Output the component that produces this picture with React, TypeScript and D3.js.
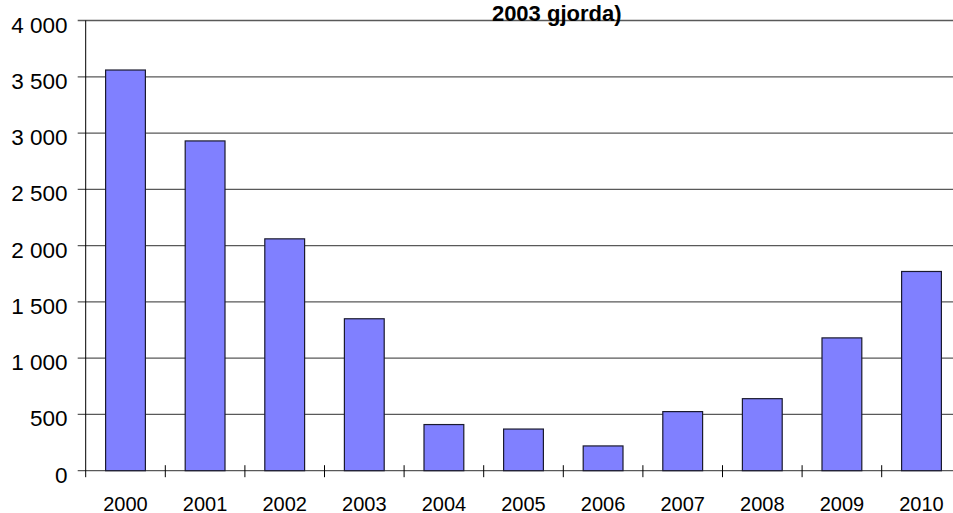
import * as d3 from "d3";

const years = ["2000", "2001", "2002", "2003", "2004", "2005", "2006", "2007", "2008", "2009", "2010"];
const counts = [3560, 2930, 2060, 1350, 410, 370, 220, 525, 640, 1180, 1770];
const yTicks = [0, 500, 1000, 1500, 2000, 2500, 3000, 3500, 4000];
const titleLine = "2003 gjorda)";

const WIDTH = 953;
const HEIGHT = 513;
const LEFT = 85.7;
const STEP = 79.6;
const TOP = 20.5;
const BOTTOM = 470.7;
const FONT = "'Liberation Sans', Arial, sans-serif";

// "3 500" style thousands separator
const fmt = (v: number) => d3.format(",")(v).replace(/,/g, "\u00a0");

export default function App() {
  const xScale = d3
    .scaleBand<string>()
    .domain(years)
    .range([LEFT, LEFT + STEP * years.length])
    .paddingInner(0.5)
    .paddingOuter(0.25);

  const yScale = d3.scaleLinear().domain([0, 4000]).range([BOTTOM, TOP]);

  const step = xScale.step();
  const x0 = xScale.range()[0];

  return (
    <svg
      width={WIDTH}
      height={HEIGHT}
      style={{ position: "absolute", left: 0, top: 0, display: "block", background: "#fff" }}
      fontFamily={FONT}
    >
      {/* Gridlines */}
      {yTicks.map((t) => (
        <line
          key={`g${t}`}
          x1={LEFT - 8}
          x2={WIDTH}
          y1={yScale(t)}
          y2={yScale(t)}
          stroke="#595959"
          strokeWidth={1.3}
        />
      ))}

      {/* Bars */}
      {years.map((yr, i) => (
        <rect
          key={yr}
          x={xScale(yr)}
          y={yScale(counts[i])}
          width={xScale.bandwidth()}
          height={BOTTOM - yScale(counts[i])}
          fill="#8080ff"
          stroke="#1a1a2e"
          strokeWidth={1.2}
        />
      ))}

      {/* Y axis */}
      <line x1={LEFT} x2={LEFT} y1={TOP} y2={BOTTOM + 6.5} stroke="#000" />
      {yTicks.map((t) => (
        <text
          key={`l${t}`}
          x={67.5}
          y={yScale(t) + 12}
          textAnchor="end"
          fontSize={22.5}
          fill="#000"
        >
          {fmt(t)}
        </text>
      ))}

      {/* X axis ticks & labels */}
      {d3.range(1, years.length + 1).map((i) => (
        <line
          key={`t${i}`}
          x1={x0 + i * step}
          x2={x0 + i * step}
          y1={BOTTOM - 5.5}
          y2={BOTTOM + 6.5}
          stroke="#000"
        />
      ))}
      {years.map((yr) => (
        <text
          key={`x${yr}`}
          x={(xScale(yr) ?? 0) + xScale.bandwidth() / 2}
          y={510.5}
          textAnchor="middle"
          fontSize={20}
          fill="#000"
        >
          {yr}
        </text>
      ))}

      {/* Title (second line visible) */}
      <text x={556.7} y={20.5} textAnchor="middle" fontSize={22} fontWeight="bold" fill="#000">
        {titleLine}
      </text>
    </svg>
  );
}
